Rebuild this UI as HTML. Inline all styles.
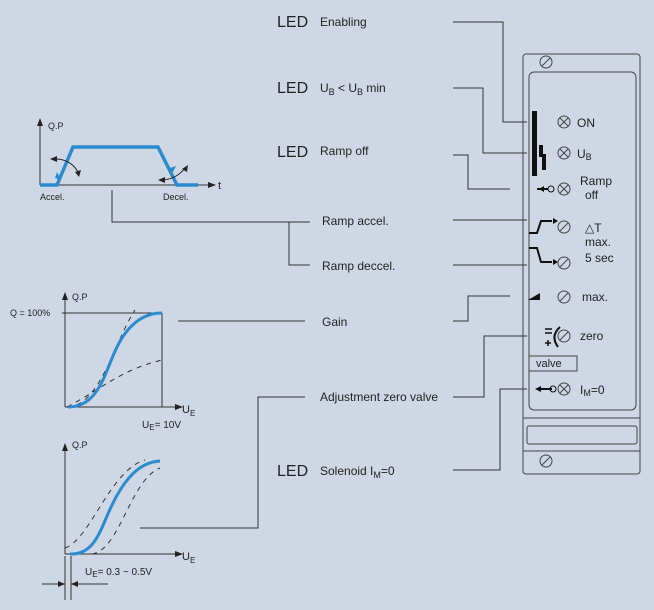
<!DOCTYPE html>
<html><head><meta charset="utf-8"><style>
body{margin:0;background:#cfd7e4;}
svg{display:block;font-family:"Liberation Sans",sans-serif;}
</style></head><body>
<svg width="654" height="610" viewBox="0 0 654 610" xmlns="http://www.w3.org/2000/svg">
<rect width="654" height="610" fill="#cfd7e4"/>
<g font-size="12" fill="#222">
<text x="277" y="27" font-size="16">LED</text><text x="320" y="26">Enabling</text>
<text x="277" y="93" font-size="16">LED</text><text x="320" y="92">U<tspan font-size="9" dy="3">B</tspan><tspan dy="-3"> &lt; U</tspan><tspan font-size="9" dy="3">B</tspan><tspan dy="-3"> min</tspan></text>
<text x="277" y="157" font-size="16">LED</text><text x="320" y="155">Ramp off</text>
<text x="322" y="225">Ramp accel.</text>
<text x="322" y="270">Ramp deccel.</text>
<text x="322" y="326">Gain</text>
<text x="320" y="401">Adjustment zero valve</text>
<text x="277" y="476" font-size="16">LED</text><text x="320" y="475">Solenoid I<tspan font-size="9" dy="3">M</tspan><tspan dy="-3">=0</tspan></text>
</g>
<g stroke="#333" stroke-width="1" fill="none">
<polyline points="453,22 503,22 503,122 527,122"/>
<polyline points="453,88 483,88 483,153 527,153"/>
<polyline points="453,155 468,155 468,189 510,189"/>
<line x1="453" y1="220" x2="527" y2="220"/>
<line x1="453" y1="265" x2="527" y2="265"/>
<polyline points="453,321 468,321 468,296 510,296"/>
<line x1="178" y1="321" x2="305" y2="321"/>
<polyline points="453,397 484,397 484,336 527,336"/>
<polyline points="453,470 500,470 500,389 527,389"/>
<polyline points="305,397 258,397 258,528 140,528"/>
<polyline points="112,190 112,222 310,222"/>
<polyline points="289,222 289,265 310,265"/>
</g>
<!-- panel -->
<g stroke="#444" stroke-width="1" fill="none">
<rect x="523" y="54" width="117" height="420" rx="3"/>
<rect x="529" y="72" width="107" height="338" rx="5"/>
<line x1="523" y1="418" x2="640" y2="418"/>
<line x1="523" y1="451" x2="640" y2="451"/>
<rect x="527" y="426" width="110" height="18" rx="2"/>
<rect x="529" y="356" width="48" height="15"/>
</g>
<g stroke="#444" stroke-width="1" fill="none">
<circle cx="546" cy="62" r="6"/><line x1="542" y1="66" x2="550" y2="58"/>
<circle cx="546" cy="461" r="6"/><line x1="542" y1="465" x2="550" y2="457"/>
<circle cx="564" cy="122" r="6"/><line x1="560" y1="118" x2="568" y2="126"/><line x1="568" y1="118" x2="560" y2="126"/>
<circle cx="564" cy="153" r="6"/><line x1="560" y1="149" x2="568" y2="157"/><line x1="568" y1="149" x2="560" y2="157"/>
<circle cx="564" cy="189" r="6"/><line x1="560" y1="185" x2="568" y2="193"/><line x1="568" y1="185" x2="560" y2="193"/>
<circle cx="564" cy="227" r="6"/><line x1="560" y1="231" x2="568" y2="223"/>
<circle cx="564" cy="263" r="6"/><line x1="560" y1="267" x2="568" y2="259"/>
<circle cx="564" cy="297" r="6"/><line x1="560" y1="301" x2="568" y2="293"/>
<circle cx="564" cy="336" r="6"/><line x1="560" y1="340" x2="568" y2="332"/>
<circle cx="564" cy="389" r="6"/><line x1="560" y1="385" x2="568" y2="393"/><line x1="568" y1="385" x2="560" y2="393"/>
</g>
<g fill="#111">
<rect x="532" y="111" width="5" height="65"/>
<polygon points="539,145 543,145 543,154 546,154 546,170 542,170 542,157 539,157"/>
<polygon points="528,300 540,293 540,300"/>
</g>
<g stroke="#111" stroke-width="2" fill="none">
<line x1="537" y1="189" x2="548" y2="189"/><circle cx="551" cy="189" r="3" stroke-width="1"/>
<polyline points="529,233 537,233 541,221 552,221"/>
<polyline points="529,248 537,248 541,262 552,262"/>
<line x1="540" y1="389" x2="552" y2="389"/><circle cx="553" cy="389" r="3" stroke-width="1"/>
<path d="M560,327 Q550,336 558,347" stroke-width="2"/>
<line x1="545" y1="329" x2="552" y2="329" stroke-width="1.5"/>
<line x1="545" y1="333" x2="552" y2="333" stroke-width="1.5"/>
<line x1="545" y1="343" x2="551" y2="343" stroke-width="1.5"/><line x1="548" y1="340" x2="548" y2="346" stroke-width="1.5"/>
</g>
<g fill="#111"><polygon points="553,218 553,224 558,221"/><polygon points="553,259 553,265 558,262"/><polygon points="544,186 544,192 539,189"/><polygon points="541,386 541,392 535,389"/></g>
<g font-size="12" fill="#222">
<text x="577" y="127">ON</text>
<text x="577" y="158">U<tspan font-size="9" dy="2">B</tspan></text>
<text x="580" y="185">Ramp</text><text x="585" y="199">off</text>
<text x="585" y="232">△T</text><text x="585" y="246">max.</text><text x="585" y="262">5 sec</text>
<text x="582" y="301">max.</text>
<text x="580" y="340">zero</text>
<text x="536" y="367" font-size="11">valve</text>
<text x="580" y="394">I<tspan font-size="9" dy="2">M</tspan><tspan dy="-2">=0</tspan></text>
</g>
<!-- top graph -->
<g stroke="#333" fill="none" stroke-width="1">
<line x1="40" y1="185" x2="40" y2="124"/><line x1="40" y1="185" x2="210" y2="185"/>
</g>
<g fill="#222"><polygon points="37,126 43,126 40,118"/><polygon points="208,182 208,188 216,185"/></g>
<polyline points="40,185 57,185 73,147 158,147 177,185 198,185" stroke="#2b8bd0" stroke-width="3.5" fill="none"/>
<g fill="#2b8bd0"><polygon points="55,178 61,180 57,172"/><polygon points="170,168 176,166 172,174"/></g>
<g stroke="#222" stroke-width="1" fill="none"><path d="M52,159 Q70,158 78,172"/><path d="M160,180 Q176,180 185,168"/></g>
<g fill="#222"><polygon points="50,159 57,156 57,162"/><polygon points="75,172 81,170 79,177"/><polygon points="158,180 165,177 165,183"/><polygon points="182,169 188,165 187,172"/></g>
<g font-size="9" fill="#222"><text x="48" y="129">Q.P</text><text x="218" y="189" font-size="11">t</text><text x="40" y="200">Accel.</text><text x="163" y="200">Decel.</text></g>
<!-- middle graph -->
<g stroke="#333" fill="none" stroke-width="1">
<line x1="65" y1="407" x2="65" y2="298"/><line x1="65" y1="407" x2="178" y2="407"/>
<line x1="62" y1="313" x2="162" y2="313"/><line x1="162" y1="313" x2="162" y2="407"/>
<path d="M67,407 C100,407 115,340 135,310" stroke-dasharray="5,5"/>
<path d="M67,407 C100,390 120,370 162,360" stroke-dasharray="5,5"/>
</g>
<path d="M68,407 C100,407 105,370 118,345 C130,322 145,313 162,313" stroke="#2b8bd0" stroke-width="3" fill="none"/>
<g fill="#222"><polygon points="62,300 68,300 65,292"/><polygon points="175,404 175,410 183,407"/></g>
<g font-size="9" fill="#222"><text x="72" y="300">Q.P</text><text x="10" y="316">Q = 100%</text><text x="182" y="413" font-size="11">U<tspan font-size="8" dy="3">E</tspan></text><text x="142" y="428" font-size="10">U<tspan font-size="8" dy="2">E</tspan><tspan dy="-2">= 10V</tspan></text></g>
<!-- bottom graph -->
<g stroke="#333" fill="none" stroke-width="1">
<line x1="65" y1="554" x2="65" y2="448"/><line x1="65" y1="554" x2="178" y2="554"/>
<path d="M65,548 C90,540 110,470 145,460" stroke-dasharray="5,5"/>
<path d="M92,554 C120,550 130,480 160,468" stroke-dasharray="5,5"/>
<line x1="65" y1="556" x2="65" y2="600"/><line x1="71" y1="556" x2="71" y2="600"/>
<line x1="42" y1="584" x2="65" y2="584"/><line x1="71" y1="584" x2="108" y2="584"/>
</g>
<path d="M70,554 C95,555 100,530 112,505 C125,478 140,462 160,461" stroke="#2b8bd0" stroke-width="3" fill="none"/>
<g fill="#222"><polygon points="62,451 68,451 65,443"/><polygon points="175,551 175,557 183,554"/><polygon points="58,581 58,587 65,584"/><polygon points="78,581 78,587 71,584"/></g>
<g font-size="9" fill="#222"><text x="72" y="448">Q.P</text><text x="182" y="560" font-size="11">U<tspan font-size="8" dy="3">E</tspan></text><text x="85" y="575" font-size="10">U<tspan font-size="8" dy="2">E</tspan><tspan dy="-2">= 0.3 ~ 0.5V</tspan></text></g>
</svg>
</body></html>
